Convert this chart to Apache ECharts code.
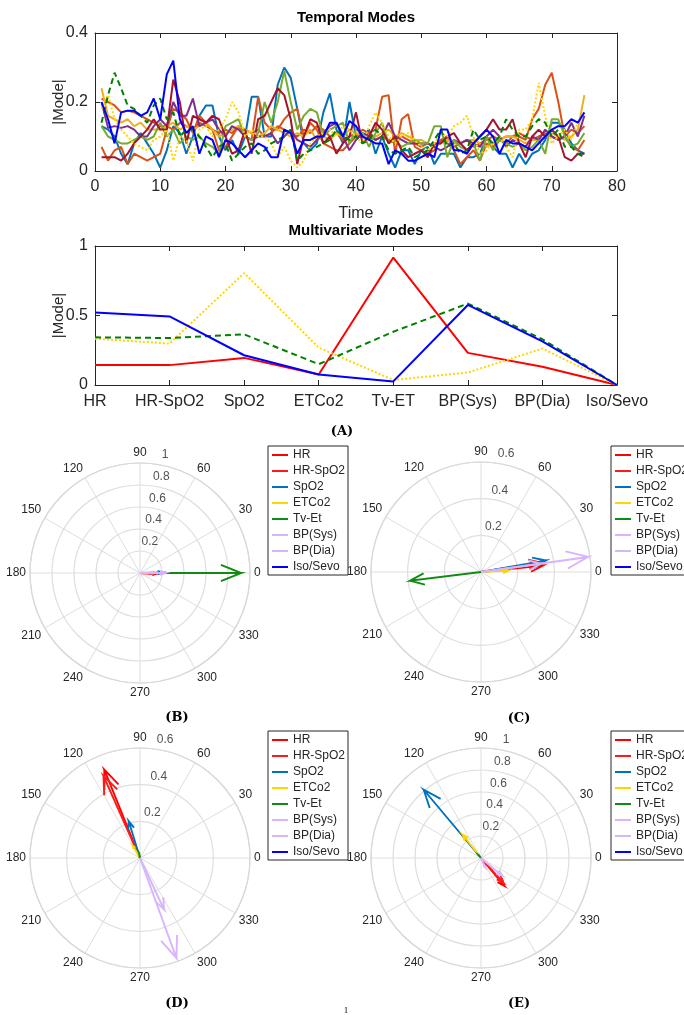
<!DOCTYPE html>
<html>
<head>
<meta charset="utf-8">
<script src="https://cdn.jsdelivr.net/npm/echarts@6/dist/echarts.min.js"></script>
<style>
  html, body { margin: 0; padding: 0; background: #fff; }
  #chart { width: 684px; height: 1015px; }
</style>
</head>
<body>
<div id="chart"></div>
<script>
// ---- temporal modes (time steps 1..75) ----
var blueMode = [
  0.20, 0.15, 0.08, 0.17, 0.175, 0.175, 0.16, 0.17, 0.21, 0.15,
  0.28, 0.32, 0.15, 0.11, 0.13, 0.05, 0.10, 0.09, 0.04, 0.09,
  0.08, 0.06, 0.04, 0.06, 0.08, 0.07, 0.04, 0.04, 0.12, 0.11,
  0.05, 0.09, 0.09, 0.10, 0.10, 0.14, 0.14, 0.10, 0.145, 0.13,
  0.10, 0.09, 0.08, 0.08, 0.02, 0.06, 0.05, 0.03, 0.03, 0.04,
  0.05, 0.04, 0.12, 0.12, 0.06, 0.06, 0.05, 0.08, 0.10, 0.12,
  0.10, 0.05, 0.09, 0.08, 0.08, 0.07, 0.06, 0.08, 0.10, 0.12,
  0.13, 0.13, 0.15, 0.14, 0.17];
var skyMode = [
  0.13, 0.12, 0.10, 0.05, 0.02, 0.08, 0.11, 0.08, 0.05, 0.01,
  0.06, 0.13, 0.11, 0.05, 0.10, 0.16, 0.19, 0.19, 0.10, 0.06,
  0.09, 0.05, 0.10, 0.215, 0.215, 0.10, 0.10, 0.25, 0.30, 0.27,
  0.18, 0.08, 0.06, 0.08, 0.17, 0.225, 0.12, 0.08, 0.20, 0.10,
  0.10, 0.12, 0.05, 0.10, 0.05, 0.01, 0.06, 0.06, 0.02, 0.06,
  0.07, 0.02, 0.05, 0.05, 0.05, 0.01, 0.04, 0.04, 0.05, 0.10,
  0.07, 0.05, 0.05, 0.01, 0.05, 0.02, 0.05, 0.06, 0.09, 0.14,
  0.14, 0.12, 0.08, 0.06, 0.05];
var orangeMode = [
  0.07, 0.03, 0.06, 0.07, 0.02, 0.05, 0.04, 0.03, 0.04, 0.05,
  0.12, 0.18, 0.17, 0.15, 0.11, 0.16, 0.14, 0.12, 0.06, 0.07,
  0.10, 0.13, 0.10, 0.09, 0.215, 0.14, 0.12, 0.12, 0.15, 0.17,
  0.18, 0.10, 0.14, 0.12, 0.08, 0.07, 0.06, 0.06, 0.08, 0.10,
  0.12, 0.11, 0.12, 0.215, 0.22, 0.05, 0.15, 0.165, 0.07, 0.06,
  0.05, 0.06, 0.09, 0.10, 0.06, 0.02, 0.04, 0.06, 0.03, 0.08,
  0.07, 0.09, 0.10, 0.10, 0.10, 0.09, 0.15, 0.18, 0.25, 0.285,
  0.20, 0.10, 0.07, 0.06, 0.09];
var orange2Mode = [
  0.21, 0.20, 0.19, 0.17, 0.175, 0.17, 0.16, 0.15, 0.14, 0.13,
  0.13, 0.12, 0.14, 0.13, 0.12, 0.14, 0.13, 0.12, 0.11, 0.12,
  0.11, 0.13, 0.12, 0.11, 0.12, 0.10, 0.11, 0.13, 0.12, 0.11,
  0.10, 0.12, 0.11, 0.13, 0.12, 0.10, 0.11, 0.09, 0.10, 0.11,
  0.10, 0.11, 0.09, 0.10, 0.09, 0.08, 0.10, 0.09, 0.08, 0.07,
  0.08, 0.07, 0.09, 0.08, 0.07, 0.08, 0.09, 0.07, 0.08, 0.09,
  0.10, 0.09, 0.08, 0.10, 0.11, 0.10, 0.09, 0.10, 0.11, 0.10,
  0.09, 0.10, 0.12, 0.11, 0.13];
var goldMode = [
  0.24, 0.16, 0.15, 0.14, 0.15, 0.13, 0.14, 0.12, 0.12, 0.12,
  0.13, 0.14, 0.12, 0.13, 0.12, 0.13, 0.14, 0.12, 0.10, 0.11,
  0.12, 0.13, 0.12, 0.11, 0.10, 0.11, 0.13, 0.12, 0.11, 0.10,
  0.11, 0.10, 0.12, 0.09, 0.10, 0.09, 0.11, 0.10, 0.12, 0.11,
  0.10, 0.09, 0.10, 0.11, 0.12, 0.10, 0.11, 0.10, 0.09, 0.09,
  0.08, 0.07, 0.08, 0.09, 0.08, 0.08, 0.09, 0.09, 0.08, 0.07,
  0.08, 0.09, 0.10, 0.10, 0.09, 0.08, 0.09, 0.09, 0.10, 0.11,
  0.10, 0.09, 0.10, 0.12, 0.22];
var purpleMode = [
  0.20, 0.125, 0.13, 0.125, 0.13, 0.12, 0.10, 0.10, 0.13, 0.15,
  0.13, 0.20, 0.16, 0.16, 0.21, 0.13, 0.14, 0.15, 0.12, 0.10,
  0.13, 0.12, 0.10, 0.09, 0.10, 0.10, 0.11, 0.08, 0.10, 0.12,
  0.09, 0.08, 0.07, 0.09, 0.11, 0.13, 0.14, 0.10, 0.06, 0.09,
  0.11, 0.10, 0.09, 0.10, 0.14, 0.10, 0.09, 0.08, 0.08, 0.08,
  0.08, 0.07, 0.06, 0.07, 0.09, 0.08, 0.09, 0.08, 0.07, 0.10,
  0.12, 0.10, 0.07, 0.09, 0.08, 0.07, 0.10, 0.09, 0.12, 0.10,
  0.09, 0.10, 0.14, 0.10, 0.16];
var greenMode = [
  0.13, 0.10, 0.09, 0.08, 0.08, 0.09, 0.10, 0.09, 0.10, 0.14,
  0.10, 0.12, 0.08, 0.10, 0.09, 0.10, 0.08, 0.07, 0.05, 0.13,
  0.14, 0.15, 0.10, 0.09, 0.11, 0.20, 0.14, 0.20, 0.29, 0.20,
  0.12, 0.16, 0.18, 0.17, 0.10, 0.12, 0.13, 0.14, 0.08, 0.12,
  0.11, 0.07, 0.11, 0.14, 0.08, 0.09, 0.07, 0.08, 0.09, 0.08,
  0.08, 0.13, 0.13, 0.04, 0.09, 0.07, 0.06, 0.08, 0.03, 0.10,
  0.06, 0.09, 0.08, 0.07, 0.08, 0.06, 0.07, 0.09, 0.05, 0.15,
  0.15, 0.10, 0.07, 0.08, 0.11];
var darkRedMode = [
  0.04, 0.04, 0.04, 0.03, 0.05, 0.08, 0.10, 0.12, 0.15, 0.12,
  0.12, 0.265, 0.20, 0.08, 0.16, 0.15, 0.14, 0.16, 0.15, 0.10,
  0.05, 0.06, 0.12, 0.05, 0.15, 0.16, 0.20, 0.24, 0.22, 0.15,
  0.02, 0.10, 0.15, 0.14, 0.08, 0.10, 0.05, 0.08, 0.10, 0.17,
  0.08, 0.10, 0.14, 0.12, 0.08, 0.10, 0.06, 0.04, 0.05, 0.06,
  0.04, 0.08, 0.08, 0.10, 0.11, 0.08, 0.06, 0.08, 0.10, 0.12,
  0.15, 0.12, 0.12, 0.15, 0.08, 0.04, 0.10, 0.12, 0.10, 0.12,
  0.10, 0.04, 0.03, 0.05, 0.05];
var greenDashedMode = [
  0.14, 0.22, 0.285, 0.24, 0.19, 0.18, 0.16, 0.14, 0.19, 0.21,
  0.15, 0.17, 0.10, 0.12, 0.12, 0.10, 0.07, 0.04, 0.07, 0.08,
  0.03, 0.05, 0.07, 0.08, 0.05, 0.06, 0.08, 0.09, 0.10, 0.12,
  0.03, 0.05, 0.06, 0.07, 0.08, 0.09, 0.12, 0.10, 0.09, 0.10,
  0.08, 0.09, 0.12, 0.10, 0.06, 0.05, 0.06, 0.07, 0.04, 0.05,
  0.06, 0.09, 0.12, 0.07, 0.08, 0.05, 0.06, 0.12, 0.09, 0.10,
  0.08, 0.10, 0.15, 0.12, 0.10, 0.10, 0.13, 0.15, 0.14, 0.10,
  0.12, 0.07, 0.07, 0.05, 0.04];
var yellowDottedMode = [
  0.18, 0.22, 0.15, 0.12, 0.10, 0.08, 0.07, 0.06, 0.09, 0.10,
  0.12, 0.03, 0.10, 0.09, 0.03, 0.12, 0.13, 0.10, 0.12, 0.15,
  0.20, 0.17, 0.10, 0.12, 0.10, 0.10, 0.08, 0.04, 0.07, 0.03,
  0.01, 0.03, 0.08, 0.10, 0.11, 0.12, 0.10, 0.13, 0.12, 0.10,
  0.08, 0.13, 0.17, 0.14, 0.10, 0.08, 0.10, 0.11, 0.09, 0.07,
  0.06, 0.08, 0.11, 0.10, 0.13, 0.14, 0.16, 0.10, 0.05, 0.06,
  0.08, 0.10, 0.07, 0.04, 0.12, 0.12, 0.15, 0.255, 0.16, 0.08,
  0.10, 0.12, 0.09, 0.14, 0.17];

// ---- multivariate modes ----
var varCats = ['HR', 'HR-SpO2', 'SpO2', 'ETCo2', 'Tv-ET', 'BP(Sys)', 'BP(Dia)', 'Iso/Sevo'];
var mvRed    = [0.143, 0.143, 0.195, 0.076, 0.917, 0.231, 0.131, 0];
var mvBlue   = [0.521, 0.493, 0.214, 0.076, 0.026, 0.576, 0.314, 0];
var mvGreen  = [0.343, 0.338, 0.364, 0.150, 0.383, 0.586, 0.329, 0];
var mvYellow = [0.333, 0.298, 0.805, 0.269, 0.036, 0.090, 0.262, 0];

// ---- compass panels (B)-(E): magnitude and angle in degrees ----
var legendNames = ['HR', 'HR-SpO2', 'SpO2', 'ETCo2', 'Tv-Et', 'BP(Sys)', 'BP(Dia)', 'Iso/Sevo'];
var legendColors = ['#ff0000', '#ff1a1a', '#0072bd', '#ffd400', '#118a11', '#d8b4fe', '#d4b8fa', '#0000ff'];
var panelB_r = [0.14, 0.14, 0.20, 0.076, 0.92, 0.23, 0.13, 0];
var panelB_deg = [356, 358, 1, 0, 0, 0, 1, 0];
var panelC_r = [0.34, 0.33, 0.36, 0.15, 0.39, 0.59, 0.33, 0];
var panelC_deg = [6, 9, 10, 3, 187, 8, 8, 0];
var panelD_r = [0.52, 0.49, 0.21, 0.076, 0.026, 0.58, 0.31, 0];
var panelD_deg = [112, 114, 107, 120, 100, 290, 295, 0];
var panelE_r = [0.33, 0.30, 0.81, 0.27, 0.036, 0.09, 0.25, 0];
var panelE_deg = [310, 312, 130, 128, 130, 293, 320, 0];
var panelMax = [1, 0.6, 0.6, 1];
var radiusTicks = [[0.2, 0.4, 0.6, 0.8, 1], [0.2, 0.4, 0.6], [0.2, 0.4, 0.6], [0.2, 0.4, 0.6, 0.8, 1]];

var AX = '#262626';
var FONT = 'Liberation Sans, Arial, sans-serif';

function timeSeries(values) {
  return values.map(function (v, i) { return [i + 1, v]; });
}

function arrowItem(params, api) {
  var r = api.value(0), a = api.value(1);
  var p0 = api.coord([0, a]);
  var p1 = api.coord([r, a]);
  var dx = p1[0] - p0[0], dy = p1[1] - p0[1];
  var hx = p0[0] + 0.8 * dx, hy = p0[1] + 0.8 * dy;
  var px = -dy * 0.08, py = dx * 0.08;
  return {
    type: 'polyline',
    shape: { points: [p0, p1, [hx + px, hy + py], p1, [hx - px, hy - py]] },
    style: { stroke: api.visual('color'), lineWidth: 1.9, fill: null }
  };
}

var myChart = echarts.init(document.getElementById('chart'));

function boxAxes(gridIndex, xBottom, yLeft) {
  var xTop = {
    gridIndex: gridIndex, position: 'top', type: xBottom.type, min: xBottom.min, max: xBottom.max,
    interval: xBottom.interval, data: xBottom.data, boundaryGap: xBottom.boundaryGap,
    axisLine: { onZero: false, lineStyle: { color: AX } },
    axisTick: { inside: true, length: 5, lineStyle: { color: AX } },
    axisLabel: { show: false }, splitLine: { show: false }
  };
  var yRight = {
    gridIndex: gridIndex, position: 'right', type: 'value', min: yLeft.min, max: yLeft.max, interval: yLeft.interval,
    axisLine: { show: true, onZero: false, lineStyle: { color: AX } },
    axisTick: { show: true, inside: true, length: 5, lineStyle: { color: AX } },
    axisLabel: { show: false }, splitLine: { show: false }
  };
  return { xTop: xTop, yRight: yRight };
}

var xTime = {
  gridIndex: 0, type: 'value', min: 0, max: 80, interval: 10, position: 'bottom',
  axisLine: { onZero: false, lineStyle: { color: AX } },
  axisTick: { inside: true, length: 5, lineStyle: { color: AX } },
  axisLabel: { color: AX, fontSize: 16, fontFamily: FONT, margin: 8 },
  splitLine: { show: false },
  name: 'Time', nameLocation: 'middle', nameGap: 35, nameMoveOverlap: false,
  nameTextStyle: { color: AX, fontSize: 16, fontFamily: FONT }
};
var yTime = {
  gridIndex: 0, type: 'value', min: 0, max: 0.4, interval: 0.2, position: 'left',
  axisLine: { show: true, onZero: false, lineStyle: { color: AX } },
  axisTick: { show: true, inside: true, length: 5, lineStyle: { color: AX } },
  axisLabel: { color: AX, fontSize: 16, fontFamily: FONT, margin: 7 },
  splitLine: { show: false },
  name: '|Mode|', nameLocation: 'middle', nameGap: 29, nameRotate: 90, nameMoveOverlap: false,
  nameTextStyle: { color: AX, fontSize: 15, fontFamily: FONT }
};
var xVar = {
  gridIndex: 1, type: 'category', data: varCats, boundaryGap: false, position: 'bottom',
  axisLine: { onZero: false, lineStyle: { color: AX } },
  axisTick: { inside: true, length: 5, lineStyle: { color: AX } },
  axisLabel: { color: AX, fontSize: 16, fontFamily: FONT, margin: 9, interval: 0 },
  splitLine: { show: false }
};
var yVar = {
  gridIndex: 1, type: 'value', min: 0, max: 1, interval: 0.5, position: 'left',
  axisLine: { show: true, onZero: false, lineStyle: { color: AX } },
  axisTick: { show: true, inside: true, length: 5, lineStyle: { color: AX } },
  axisLabel: { color: AX, fontSize: 16, fontFamily: FONT, margin: 7 },
  splitLine: { show: false },
  name: '|Mode|', nameLocation: 'middle', nameGap: 29, nameRotate: 90, nameMoveOverlap: false,
  nameTextStyle: { color: AX, fontSize: 15, fontFamily: FONT }
};
var box0 = boxAxes(0, xTime, yTime);
var box1 = boxAxes(1, xVar, yVar);

var series = [];
function addTime(values, color, type, width) {
  series.push({
    type: 'line', xAxisIndex: 0, yAxisIndex: 0, data: timeSeries(values),
    symbol: 'none', silent: true,
    lineStyle: { color: color, width: width, type: type }
  });
}
addTime(skyMode, '#0072bd', 'solid', 2);
addTime(orangeMode, '#d95319', 'solid', 2);
addTime(orange2Mode, '#d95319', 'solid', 2);
addTime(goldMode, '#edb120', 'solid', 2);
addTime(purpleMode, '#7e2f8e', 'solid', 2);
addTime(greenMode, '#77ac30', 'solid', 2);
addTime(darkRedMode, '#a2142f', 'solid', 2);
addTime(yellowDottedMode, '#ffd700', [2, 2], 2);
addTime(greenDashedMode, '#008000', [6, 4], 2);
addTime(blueMode, '#0000ff', 'solid', 2);

function addVar(values, color, type) {
  series.push({
    type: 'line', xAxisIndex: 2, yAxisIndex: 2, data: values,
    symbol: 'none', silent: true,
    lineStyle: { color: color, width: 2, type: type }
  });
}
addVar(mvRed, '#ff0000', 'solid');
addVar(mvYellow, '#ffd700', [2, 2]);
addVar(mvGreen, '#008000', [6, 4]);
addVar(mvBlue, '#0000ff', 'solid');

var panels = [
  { r: panelB_r, deg: panelB_deg, center: [140, 573], legend: [268, 446] },
  { r: panelC_r, deg: panelC_deg, center: [481, 572], legend: [611, 446] },
  { r: panelD_r, deg: panelD_deg, center: [140, 858], legend: [268, 731] },
  { r: panelE_r, deg: panelE_deg, center: [481, 858], legend: [611, 731] }
];

var polars = [], angleAxes = [], radiusAxes = [], legends = [];
panels.forEach(function (p, k) {
  polars.push({ center: p.center, radius: 110 });
  angleAxes.push({
    polarIndex: k, type: 'value', min: 0, max: 360, interval: 30, startAngle: 0, clockwise: false,
    axisLine: { lineStyle: { color: '#d9d9d9', width: 1.2 } },
    axisTick: { show: false },
    axisLabel: {
      color: AX, fontSize: 12, fontFamily: FONT, margin: 4,
      formatter: function (v) { return v === 360 ? '' : String(v); }
    },
    splitLine: { show: true, lineStyle: { color: '#dedede', width: 1 } }
  });
  radiusAxes.push({
    polarIndex: k, type: 'value', min: 0, max: panelMax[k], interval: 0.2,
    axisLine: { show: false }, axisTick: { show: false }, axisLabel: { show: false },
    splitLine: { show: true, lineStyle: { color: '#dedede', width: 1.2 } }
  });
  legends.push({
    data: legendNames, orient: 'vertical', left: p.legend[0], top: p.legend[1],
    icon: 'rect', itemWidth: 16, itemHeight: 2, itemGap: 2,
    padding: [2, 3, 1, 4], selectedMode: false,
    backgroundColor: '#fff', borderColor: AX, borderWidth: 1, borderRadius: 0,
    textStyle: { color: AX, fontSize: 12, fontFamily: FONT, lineHeight: 14 }
  });
  legendNames.forEach(function (name, i) {
    series.push({
      type: 'custom', name: name, coordinateSystem: 'polar', polarIndex: k,
      itemStyle: { color: legendColors[i] }, silent: true,
      renderItem: arrowItem,
      data: [[p.r[i], p.deg[i]]]
    });
  });
  series.push({
    type: 'scatter', name: 'rticks', coordinateSystem: 'polar', polarIndex: k,
    symbolSize: 1, itemStyle: { color: 'rgba(255,255,255,0)' }, silent: true, z: 5,
    data: radiusTicks[k].map(function (t) { return [t, 80]; }),
    label: {
      show: true, position: 'top', distance: 3, offset: [6, 0],
      color: AX, fontSize: 12, fontFamily: FONT,
      formatter: function (q) { return String(q.value[0]); }
    }
  });
});

function caption(text, x, y) {
  return {
    type: 'text', x: x, y: y, silent: true,
    style: { text: text, fill: '#000', font: 'bold 13px "DejaVu Serif", "Liberation Serif", serif', textAlign: 'center', textVerticalAlign: 'middle' }
  };
}
function heading(text, x, y) {
  return {
    type: 'text', x: x, y: y, silent: true,
    style: { text: text, fill: '#000', font: 'bold 15px "Liberation Sans", Arial, sans-serif', textAlign: 'center', textVerticalAlign: 'middle' }
  };
}

var option = {
  backgroundColor: '#fff',
  animation: false,
  grid: [
    { left: 95, top: 33, width: 522, height: 138 },
    { left: 95, top: 246, width: 522, height: 139 }
  ],
  xAxis: [xTime, box0.xTop, xVar, box1.xTop],
  yAxis: [yTime, box0.yRight, yVar, box1.yRight],
  polar: polars,
  angleAxis: angleAxes,
  radiusAxis: radiusAxes,
  legend: legends,
  graphic: [
    heading('Temporal Modes', 356, 18),
    heading('Multivariate Modes', 356, 231),
    caption('(A)', 342, 432),
    caption('(B)', 177, 718),
    caption('(C)', 519, 719),
    caption('(D)', 177, 1004),
    caption('(E)', 519, 1004),
    { type: 'text', x: 346, y: 1011, silent: true,
      style: { text: '1', fill: '#000', font: '9px "Liberation Serif", serif', textAlign: 'center', textVerticalAlign: 'middle' } }
  ],
  series: series
};

if (option && typeof option === 'object') {
  myChart.setOption(option, true);
}
</script>
</body>
</html>
